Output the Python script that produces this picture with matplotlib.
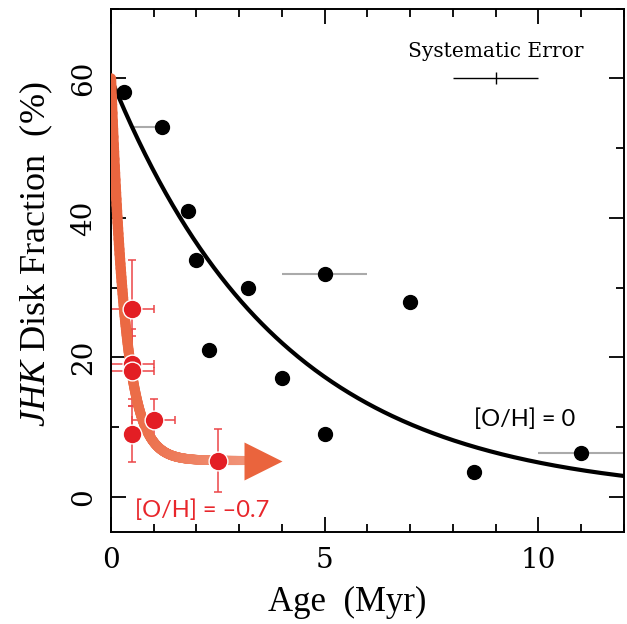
import numpy as np
import matplotlib.pyplot as plt
from matplotlib.collections import LineCollection
from matplotlib.ticker import MultipleLocator

# solar metallicity clusters ([O/H] = 0)
solar_age = [0.3, 1.2, 1.8, 2.0, 3.2, 2.3, 4.0, 5.0, 7.0, 5.0, 8.5, 11.0]
solar_frac = [58, 53, 41, 34, 30, 21, 17, 32, 28, 9, 3.6, 6.3]
# gray horizontal age bars (age, fraction, lower, upper)
bar_age = [1.2, 5.0, 11.0]
bar_frac = [53, 32, 6.3]
bar_lo = [0.7, 1.0, 1.0]
bar_hi = [0.0, 1.0, 1.0]

# low metallicity clusters ([O/H] = -0.7)
low_age = [0.5, 0.5, 0.5, 1.0, 0.5, 2.5]
low_frac = [27, 19, 18, 11, 9, 5.2]
low_xerr = [0.5, 0.5, 0.5, 0.5, 0.0, 0.0]
low_yerr = [7, 5, 5, 3, 4, 4.5]

# fitted curves
tau_solar = 4.0
f0_solar = 60
tau_low = 0.33
f0_low = 54.8
floor_low = 5.2
low_curve_end = 3.12

plt.rcParams['mathtext.fontset'] = 'custom'
plt.rcParams['mathtext.it'] = 'Liberation Serif:italic'
plt.rcParams['mathtext.rm'] = 'Liberation Serif'

fig = plt.figure(figsize=(6.27, 6.24), dpi=100)
ax = fig.add_axes([0.177, 0.148, 0.818, 0.838])

red = '#e31e24'
orange = np.array([0.918, 0.392, 0.239])

# gray age bars
ax.errorbar(bar_age, bar_frac, xerr=[bar_lo, bar_hi], fmt='none',
            ecolor='#aaaaaa', elinewidth=1.5, capsize=0, zorder=2)

# black fit
t = np.linspace(0, 12, 300)
ax.plot(t, f0_solar * np.exp(-t / tau_solar), color='k', lw=3, zorder=3)
ax.plot(solar_age, solar_frac, 'o', color='k', ms=10, zorder=4)

# red error bars, under the orange curve
ax.errorbar(low_age, low_frac, xerr=low_xerr, yerr=low_yerr, fmt='none',
            ecolor='#ec4548', elinewidth=1.1, capsize=3, capthick=1.1, zorder=2)

# orange curve, fading a little towards the arrow
tl = np.linspace(0, low_curve_end, 400)
yl = f0_low * np.exp(-tl / tau_low) + floor_low
pts = np.array([tl, yl]).T.reshape(-1, 1, 2)
segs = np.concatenate([pts[:-1], pts[1:]], axis=1)
mix = np.linspace(0, 0.3, len(segs))[:, None]
cols = orange * (1 - mix) + mix
lc = LineCollection(segs, colors=cols, linewidths=np.linspace(7.5, 6.5, len(segs)),
                    capstyle='round', zorder=5)
ax.add_collection(lc)
ax.plot([low_curve_end + 0.43], [floor_low], marker='>', ms=27, color=orange,
        mec='none', zorder=5)

ax.plot(low_age, low_frac, 'o', color=red, ms=13.5, mec='white', mew=1, zorder=6)

# systematic error bar
ax.errorbar([9], [60], xerr=[1], fmt='none', ecolor='k', elinewidth=1,
            capsize=0, zorder=3)
ax.plot([9], [60], marker='|', color='k', ms=8, mew=1)
ax.text(9, 63.8, 'Systematic Error', ha='center', va='center',
        family='DejaVu Serif', fontsize=14.5)

ax.text(8.5, 11.1, '[O/H] = 0', ha='left', va='center', family='Lato',
        fontsize=17, color='k')
ax.text(0.56, -1.9, '[O/H] = \u20130.7', ha='left', va='center', family='Lato',
        fontsize=17, color='#e8262b')

ax.set_xlim(0, 12)
ax.set_ylim(-5, 70)
ax.xaxis.set_major_locator(MultipleLocator(5))
ax.xaxis.set_minor_locator(MultipleLocator(1))
ax.yaxis.set_major_locator(MultipleLocator(20))
ax.yaxis.set_minor_locator(MultipleLocator(10))
ax.tick_params(which='both', direction='in', top=True, right=True, width=1.3)
ax.tick_params(which='major', length=11)
ax.tick_params(which='minor', length=6)
ax.tick_params(axis='x', pad=11)
ax.tick_params(axis='y', pad=10)
for s in ax.spines.values():
    s.set_linewidth(1.4)

for lab in ax.get_xticklabels():
    lab.set_family('DejaVu Serif')
    lab.set_fontsize(20)
for lab in ax.get_yticklabels():
    lab.set_family('DejaVu Serif')
    lab.set_fontsize(20)
    lab.set_rotation(90)
    lab.set_va('center')

ax.set_xlabel('Age  (Myr)', family='Liberation Serif', fontsize=25, va='center')
ax.xaxis.set_label_coords(0.46, -0.135)
ax.set_ylabel(r'$\it{JHK}$ Disk Fraction  (%)', family='Liberation Serif',
              fontsize=26, va='center')
ax.yaxis.set_label_coords(-0.145, 0.53)

fig.savefig('out.png', dpi=100)
